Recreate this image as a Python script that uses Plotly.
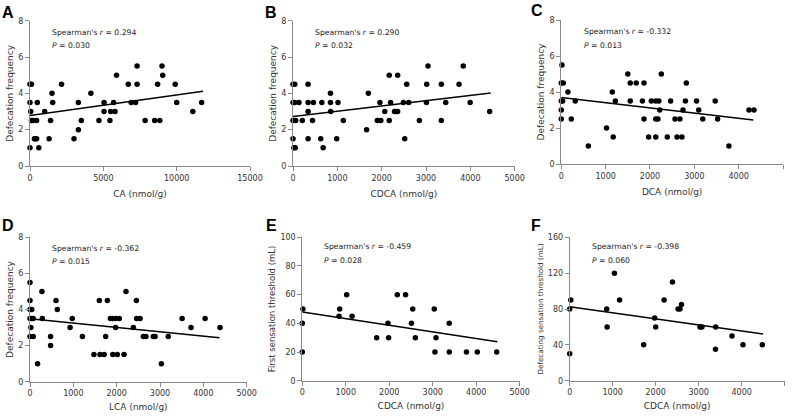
import plotly.graph_objects as go
from plotly.subplots import make_subplots

# panel A: CA vs defecation frequency
a_x = [0, 0, 100, 0, 50, 100, 200, 300, 350, 450, 500, 450, 600, 1000, 1300, 1400, 1500, 1550, 2150,
       3000, 3300, 3300, 3500, 4150, 4700, 5050, 5050, 5450, 5500, 5700, 5800, 5900, 6700, 6900, 7200,
       7300, 7300, 7850, 8500, 8700, 8850, 9000, 9050, 9900, 10000, 11100, 11700]
a_y = [1, 4.5, 4.5, 3.5, 3, 2.5, 2.5, 1.5, 1.5, 2.5, 3.5, 1.5, 1, 3, 1.5, 2.5, 4, 3.5, 4.5,
       1.5, 3.5, 2, 2.5, 4, 2.5, 3.5, 3, 2.5, 3, 3.5, 3, 5, 4.5, 3.5, 3.5,
       5.5, 4.5, 2.5, 2.5, 4.5, 2.5, 5.5, 5, 4.5, 3.5, 3, 3.5]
a_line_x = [0, 11800]
a_line_y = [2.78, 4.12]

# panel B: CDCA vs defecation frequency
b_x = [0, 40, 0, 40, 0, 60, 0, 20, 50, 135, 210, 340, 340, 340, 340, 440, 460, 625, 650, 680, 845,
       845, 850, 985, 1015, 1135, 1660, 1700, 1900, 1960, 1980, 2070, 2170, 2170, 2200, 2290, 2340,
       2360, 2360, 2490, 2520, 2565, 2610, 2850, 3010, 3015, 3045, 3345, 3345, 3445, 3745, 3840,
       3995, 4435]
b_y = [4.5, 4.5, 3.5, 3.5, 2.5, 2.5, 1.5, 1, 1, 3.5, 2.5, 4.5, 3.5, 3, 1.5, 2.5, 3.5, 1.5, 3.5, 1, 4,
       3.5, 3, 1.5, 3.5, 2.5, 2, 4, 2.5, 3.5, 2.5, 3, 5, 2.5, 3.5, 3, 3,
       5, 3, 3.5, 1.5, 4.5, 3.5, 2.5, 3.5, 4.5, 5.5, 4.5, 2.5, 3.5, 4.5, 5.5,
       3.5, 3]
b_line_x = [0, 4460]
b_line_y = [2.72, 4.02]

# panel C: DCA vs defecation frequency
c_x = [0, 0, 0, 30, 0, 45, 15, 150, 225, 315, 610, 1020, 1150, 1170, 1220, 1500, 1555, 1555, 1690,
       1830, 1865, 1865, 1970, 2030, 2130, 2130, 2130, 2180, 2200, 2220, 2255, 2390, 2465, 2565,
       2610, 2675, 2720, 2745, 2800, 2820, 3050, 3100, 3190, 3470, 3525, 3780, 4233, 4346]
c_y = [2.5, 3, 3.5, 3.5, 4.5, 4.5, 5.5, 4, 2.5, 3.5, 1, 2, 4, 1.5, 3.5, 5, 4.5, 3.5, 4.5,
       3.5, 4.5, 2.5, 1.5, 3.5, 3.5, 2.5, 1.5, 2.5, 3.5, 3, 5, 1.5, 3.5, 2.5,
       1.5, 2.5, 1.5, 3, 3.5, 4.5, 3.5, 3, 2.5, 3.5, 2.5, 1, 3, 3]
c_line_x = [0, 4330]
c_line_y = [3.70, 2.44]

# panel D: LCA vs defecation frequency
d_x = [0, 0, 0, 40, 0, 40, 20, 0, 75, 75, 175, 275, 285, 475, 475, 600, 630, 925, 975, 1210, 1475,
       1600, 1615, 1710, 1745, 1785, 1855, 1900, 1910, 1975, 1975, 2015, 2060, 2170, 2215, 2385,
       2455, 2460, 2540, 2615, 2675, 2845, 2885, 3030, 3190, 3510, 3715, 4040, 4385]
d_y = [5.5, 4.5, 4, 4, 3.5, 3.5, 3, 2.5, 3.5, 2.5, 1, 5, 3.5, 2.5, 2, 4.5, 4, 3, 3.5, 2.5, 1.5,
       4.5, 1.5, 1.5, 2.5, 4.5, 3.5, 3.5, 1.5, 3, 3.5, 1.5, 3.5, 1.5, 5, 3,
       4.5, 3.5, 3.5, 2.5, 2.5, 2.5, 2.5, 1, 2.5, 3.5, 3, 3.5, 3]
d_line_x = [0, 4370]
d_line_y = [3.49, 2.44]

# panel E: CDCA vs first sensation threshold
e_x = [0, 0, 15, 845, 860, 1020, 1145, 1710, 1970, 1985, 2185, 2375, 2510, 2540, 2600, 3035, 3050,
       3075, 3380, 3380, 3775, 4025, 4470]
e_y = [20, 40, 50, 45, 50, 60, 45, 30, 40, 30, 60, 60, 40, 50, 30, 50, 20,
       30, 40, 20, 20, 20, 20]
e_line_x = [0, 4486]
e_line_y = [47.9, 27.2]

# panel F: CDCA vs defecating sensation threshold
f_x = [0, 0, 25, 860, 870, 1040, 1160, 1720, 1975, 2000, 2195, 2390, 2520, 2565, 2600, 3030, 3075,
       3390, 3395, 3775, 4030, 4480]
f_y = [30, 80, 90, 80, 60, 120, 90, 40, 70, 60, 90, 110, 80, 80, 85, 60, 60,
       35, 60, 50, 40, 40]
f_line_x = [0, 4496]
f_line_y = [82.6, 52.1]

letters = ["A", "B", "C", "D", "E", "F"]
x_titles = ["CA (nmol/g)", "CDCA (nmol/g)", "DCA (nmol/g)", "LCA (nmol/g)", "CDCA (nmol/g)", "CDCA (nmol/g)"]
y_titles = ["Defecation frequency"] * 4 + ["First sensation threshold (mL)", "Defecating sensation threshold (mL)"]
r_vals = ["0.294", "0.290", "-0.332", "-0.362", "-0.459", "-0.398"]
p_vals = ["0.030", "0.032", "0.013", "0.015", "0.028", "0.060"]
x_max = [15000, 5000, 5000, 5000, 5000, 5000]
x_dtick = [5000, 1000, 1000, 1000, 1000, 1000]
y_max = [8, 8, 8, 8, 100, 160]
y_dtick = [2, 2, 2, 2, 20, 40]

panels = [(a_x, a_y, a_line_x, a_line_y), (b_x, b_y, b_line_x, b_line_y), (c_x, c_y, c_line_x, c_line_y),
          (d_x, d_y, d_line_x, d_line_y), (e_x, e_y, e_line_x, e_line_y), (f_x, f_y, f_line_x, f_line_y)]

W, H = 792, 419
# plot areas in pixels: left, right, top, bottom
boxes = [(30, 250, 20.7, 166), (293, 514.7, 20.7, 166), (561.3, 783, 20, 164),
         (30, 246.7, 237.3, 381.7), (302.3, 519.7, 237.3, 380.7), (569.7, 784.7, 237.3, 380.7)]
letter_pos = [(7.5, 12), (271, 12), (537, 10.5), (7.5, 225.5), (271.5, 225.5), (536, 225.5)]
text_x = [0.09, 0.089, 0.093, 0.092, 0.092, 0.096]
text_y1 = [0.922, 0.922, 0.919, 0.924, 0.934, 0.934]
text_y2 = [0.826, 0.826, 0.826, 0.831, 0.835, 0.835]
ytitle_size = [9, 9, 9, 9, 8.5, 7.2]
xtitle_standoff = [9, 9, 9, 6, 6, 6]

fig = make_subplots(rows=2, cols=3)
font = "DejaVu Sans"

for i, (px_, py_, lx, ly) in enumerate(panels):
    row, col = i // 3 + 1, i % 3 + 1
    fig.add_trace(go.Scatter(x=px_, y=py_, mode="markers", cliponaxis=False,
                             marker=dict(color="black", size=5.5), showlegend=False), row=row, col=col)
    fig.add_trace(go.Scatter(x=lx, y=ly, mode="lines", line=dict(color="black", width=1.5),
                             showlegend=False), row=row, col=col)
    l, r, t, b = boxes[i]
    fig.update_xaxes(domain=[l / W, r / W], range=[0, x_max[i]], dtick=x_dtick[i], tick0=0,
                     tickformat="d", automargin=False,
                     showgrid=False, zeroline=False, showline=True, linecolor="#8a8a8a", linewidth=1,
                     ticks="outside", ticklen=4, tickcolor="#8a8a8a",
                     tickfont=dict(family=font, size=8, color="#333"),
                     title=dict(text=x_titles[i], font=dict(family=font, size=9, color="#333"),
                                standoff=xtitle_standoff[i]),
                     row=row, col=col)
    fig.update_yaxes(domain=[1 - b / H, 1 - t / H], range=[0, y_max[i]], dtick=y_dtick[i], tick0=0,
                     automargin=False,
                     showgrid=False, zeroline=False, showline=True, linecolor="#8a8a8a", linewidth=1,
                     ticks="outside", ticklen=4, tickcolor="#8a8a8a",
                     tickfont=dict(family=font, size=8, color="#333"),
                     title=dict(text=y_titles[i], font=dict(family=font, size=ytitle_size[i], color="#333"),
                                standoff=3),
                     row=row, col=col)
    xa = "x" if i == 0 else "x%d" % (i + 1)
    ya = "y" if i == 0 else "y%d" % (i + 1)
    fig.add_annotation(xref=xa + " domain", yref=ya + " domain", x=text_x[i], y=text_y1[i],
                       xanchor="left", yanchor="middle", showarrow=False,
                       text="Spearman's <i>r</i> = " + r_vals[i],
                       font=dict(family=font, size=7.7, color="#222"))
    fig.add_annotation(xref=xa + " domain", yref=ya + " domain", x=text_x[i], y=text_y2[i],
                       xanchor="left", yanchor="middle", showarrow=False,
                       text="<i>P</i> = " + p_vals[i],
                       font=dict(family=font, size=7.7, color="#222"))
    lx0, ly0 = letter_pos[i]
    fig.add_annotation(xref="paper", yref="paper", x=lx0 / W, y=1 - ly0 / H,
                       xanchor="center", yanchor="middle", showarrow=False,
                       text="<b>" + letters[i] + "</b>",
                       font=dict(family="Liberation Sans", size=16, color="black"))

fig.update_layout(width=W, height=H, margin=dict(l=0, r=0, t=0, b=0),
                  plot_bgcolor="white", paper_bgcolor="white")

# drop the default page margin so the figure sits at the window's top-left corner
fig.write_html("out.html", config={"displayModeBar": False},
               post_script="document.body.style.margin='0px';")
